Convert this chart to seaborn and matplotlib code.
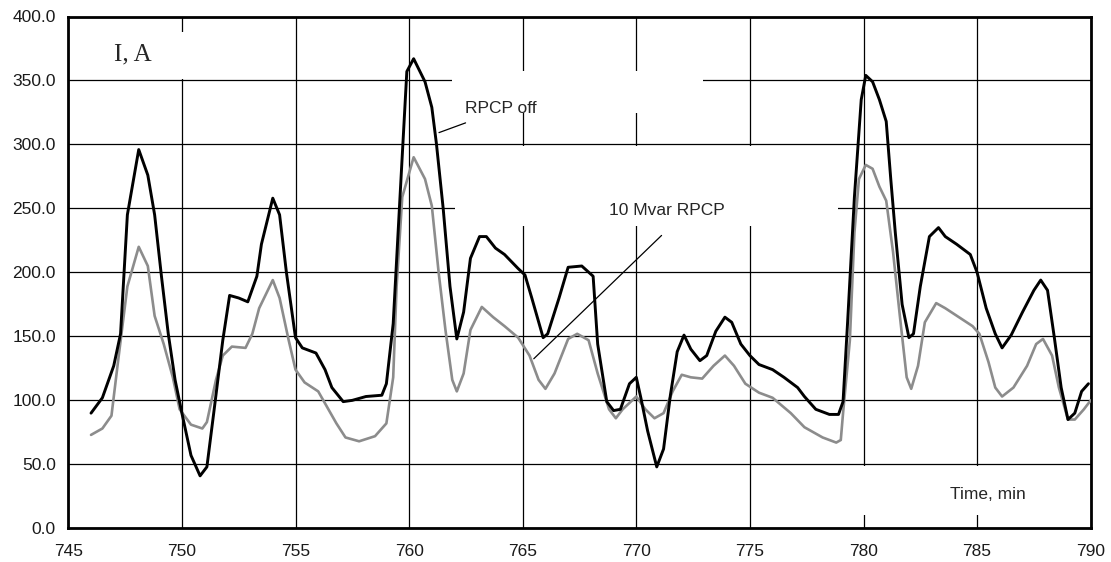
import numpy as np
import pandas as pd
import matplotlib
matplotlib.use("Agg")
import matplotlib.pyplot as plt
from matplotlib.patches import Rectangle
import seaborn as sns

# ---- data ----
t_off = [746.0, 746.5, 747.0, 747.3, 747.6, 748.1, 748.5, 748.8, 749.1, 749.4, 749.7, 750.0,
         750.4, 750.8, 751.1, 751.4, 751.8, 752.1, 752.5, 752.9, 753.3, 753.5, 754.0, 754.3,
         754.6, 755.0, 755.3, 755.9, 756.3, 756.6, 757.1, 757.5, 758.1, 758.8, 759.0, 759.3,
         759.6, 759.9, 760.2, 760.7, 761.0, 761.2, 761.5, 761.8, 762.1, 762.4, 762.7, 763.1,
         763.4, 763.8, 764.2, 764.8, 765.1, 765.4, 765.9, 766.1, 766.6, 767.0, 767.6, 768.1,
         768.3, 768.7, 769.0, 769.3, 769.7, 770.0, 770.2, 770.5, 770.9, 771.2, 771.5, 771.8,
         772.1, 772.4, 772.8, 773.1, 773.5, 773.9, 774.2, 774.6, 775.0, 775.4, 776.0, 776.5,
         777.1, 777.4, 777.9, 778.5, 778.9, 779.1, 779.3, 779.6, 779.9, 780.1, 780.4, 780.7,
         781.0, 781.2, 781.4, 781.7, 782.0, 782.2, 782.5, 782.9, 783.3, 783.6, 784.1, 784.7,
         785.0, 785.4, 785.8, 786.1, 786.5, 787.0, 787.5, 787.8, 788.1, 788.4, 788.7, 789.0,
         789.3, 789.6, 789.9]
i_off = [90, 102, 127, 152, 245, 296, 276, 245, 197, 152, 116, 90,
         57, 41, 48, 90, 147, 182, 180, 177, 197, 222, 258, 245,
         200, 149, 141, 137, 124, 110, 99, 100, 103, 104, 113, 160,
         259, 357, 367, 349, 329, 301, 250, 189, 148, 169, 211, 228,
         228, 219, 214, 203, 198, 180, 149, 152, 180, 204, 205, 197,
         144, 99, 92, 93, 113, 118, 102, 76, 48, 62, 104, 138,
         151, 140, 131, 135, 154, 165, 161, 144, 135, 128, 124, 118,
         110, 103, 93, 89, 89, 99, 161, 259, 335, 354, 349, 335,
         318, 273, 231, 175, 149, 152, 189, 228, 235, 228, 222, 214,
         200, 172, 152, 141, 151, 169, 186, 194, 186, 149, 110, 85,
         90, 107, 113]

t_rpcp = [746.0, 746.5, 746.9, 747.2, 747.6, 748.1, 748.5, 748.8, 749.2, 749.6, 749.9, 750.4,
          750.9, 751.1, 751.5, 751.8, 752.2, 752.8, 753.1, 753.4, 754.0, 754.3, 754.7, 755.0,
          755.4, 756.0, 756.8, 757.2, 757.8, 758.5, 759.0, 759.3, 759.45, 759.7, 760.2, 760.7,
          761.0, 761.3, 761.6, 761.9, 762.1, 762.4, 762.7, 763.2, 763.7, 764.2, 764.8, 765.3,
          765.7, 766.0, 766.4, 767.0, 767.4, 767.9, 768.3, 768.8, 769.1, 769.4, 770.0, 770.4,
          770.8, 771.2, 771.6, 772.0, 772.4, 772.9, 773.4, 773.9, 774.3, 774.8, 775.4, 776.0,
          776.8, 777.4, 778.2, 778.8, 779.0, 779.1, 779.4, 779.6, 779.8, 780.1, 780.4, 780.7,
          781.0, 781.3, 781.6, 781.9, 782.1, 782.4, 782.7, 783.2, 783.6, 784.2, 784.8, 785.1,
          785.5, 785.8, 786.1, 786.6, 787.2, 787.6, 787.9, 788.3, 788.6, 789.0, 789.3, 789.7,
          790.0]
i_rpcp = [73, 78, 88, 132, 189, 220, 205, 166, 144, 118, 93, 81,
          78, 83, 116, 135, 142, 141, 152, 172, 194, 180, 147, 124,
          114, 107, 82, 71, 68, 72, 82, 118, 189, 259, 290, 273,
          252, 200, 155, 116, 107, 121, 155, 173, 165, 158, 149, 135,
          116, 109, 121, 148, 152, 147, 121, 93, 86, 93, 103, 93,
          86, 90, 107, 120, 118, 117, 127, 135, 127, 113, 106, 102,
          90, 79, 71, 67, 69, 90, 147, 231, 273, 284, 281, 267,
          256, 216, 166, 118, 109, 127, 161, 176, 172, 165, 158, 152,
          130, 110, 103, 110, 127, 144, 148, 135, 110, 85, 85, 93,
          100]

x_ticks = [745, 750, 755, 760, 765, 770, 775, 780, 785, 790]
y_ticks = [0, 50, 100, 150, 200, 250, 300, 350, 400]

df_off = pd.DataFrame({"t": t_off, "i": i_off})
df_rpcp = pd.DataFrame({"t": t_rpcp, "i": i_rpcp})

sns.set_style("white")
plt.rcParams["font.family"] = ["Liberation Sans", "DejaVu Sans"]

fig = plt.figure(figsize=(11.11, 5.62), dpi=100)
ax = fig.add_axes([68.3 / 1111, (562 - 528.3) / 562, (1090.7 - 68.3) / 1111, (528.3 - 16.5) / 562])

sns.lineplot(data=df_rpcp, x="t", y="i", ax=ax, color="#8c8c8c", lw=1.9,
             estimator=None, sort=False, zorder=3)
sns.lineplot(data=df_off, x="t", y="i", ax=ax, color="black", lw=2.1,
             estimator=None, sort=False, zorder=4)

ax.set_xlim(745, 790)
ax.set_ylim(0, 400)
ax.set_xticks(x_ticks)
ax.set_yticks(y_ticks)
ax.set_yticklabels([f"{v:.1f}" for v in y_ticks])
ax.set_xlabel("")
ax.set_ylabel("")
ax.tick_params(axis="both", length=0, labelsize=12.5, labelcolor="#1a1a1a")
ax.tick_params(axis="x", pad=11)
ax.tick_params(axis="y", pad=9)

ax.set_axisbelow(True)
ax.grid(True, color="black", lw=0.9)
for s in ax.spines.values():
    s.set_visible(True)
    s.set_color("black")
    s.set_linewidth(2.0)

# white label areas that interrupt the grid
for (x0, x1, y0, y1) in [(746.0, 750.6, 351.5, 387.5),
                         (761.88, 772.92, 324.2, 357.2),
                         (762.0, 778.86, 235.9, 298.5),
                         (777.2, 788.6, 10.4, 48.8)]:
    ax.add_patch(Rectangle((x0, y0), x1 - x0, y1 - y0, facecolor="white",
                           edgecolor="none", zorder=1))

ax.text(747.85, 370.5, "I, A", family=["Liberation Serif", "DejaVu Serif"], fontsize=18,
        ha="center", va="center", zorder=5)
ax.text(762.46, 328, "RPCP off", fontsize=12.5, ha="left", va="center", zorder=5)
ax.text(768.8, 248, "10 Mvar RPCP", fontsize=12.5, ha="left", va="center", zorder=5)
ax.text(783.8, 26.6, "Time, min", fontsize=12.5, ha="left", va="center", zorder=5)

ax.annotate("", xy=(761.2, 308.5), xytext=(762.6, 317.6),
            arrowprops=dict(arrowstyle="-", lw=0.9, color="black"), zorder=5)
ax.annotate("", xy=(765.4, 131), xytext=(771.2, 230.4),
            arrowprops=dict(arrowstyle="-", lw=0.9, color="black"), zorder=5)

fig.savefig("out.png", dpi=100, facecolor="white")
